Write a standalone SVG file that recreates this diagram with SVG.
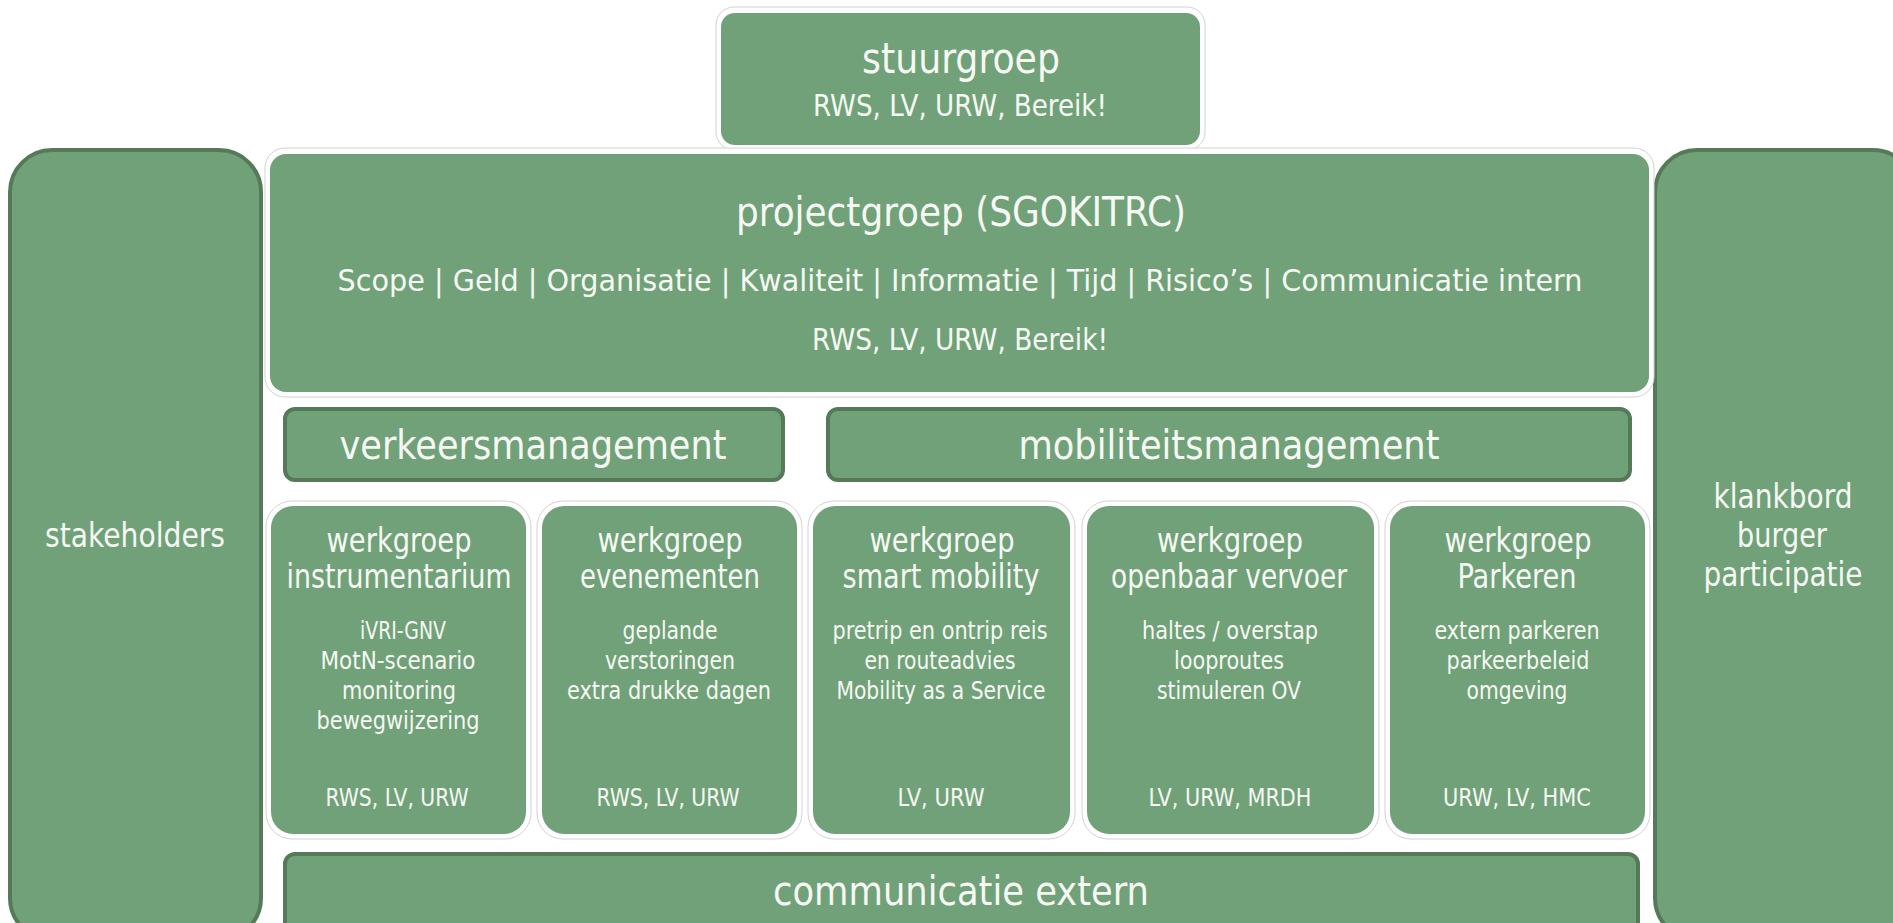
<svg xmlns="http://www.w3.org/2000/svg" width="1893" height="923" viewBox="0 0 1893 923">
<style>
.box{fill:#71a178}
.dark{fill:#71a178;stroke:#557a58;stroke-width:4}
.halo{fill:#ffffff;stroke:#d2d2d2;stroke-width:1}
text{font-family:"DejaVu Sans Condensed","DejaVu Sans",sans-serif;font-stretch:condensed;fill:#f6f8f4;text-anchor:middle}
.t44{font-size:43px}
.t41{font-size:41px}
.t31{font-size:31px}
.t30{font-size:30px}
.t33{font-size:33px}
.t25{font-size:25px}
</style>
<rect x="0" y="0" width="1893" height="923" fill="#ffffff"/>
<g id="connectors"/>
<g id="stakeholders">
<rect class="dark" x="10" y="150" width="251" height="790" rx="42"/>
<text class="t33" x="135" y="547" textLength="180" lengthAdjust="spacingAndGlyphs">stakeholders</text>
</g>
<g id="klankbord">
<rect class="dark" x="1655" y="150" width="260" height="790" rx="42"/>
<text class="t33" x="1783" y="508" textLength="139" lengthAdjust="spacingAndGlyphs">klankbord</text>
<text class="t33" x="1782" y="547" textLength="90" lengthAdjust="spacingAndGlyphs">burger</text>
<text class="t33" x="1783" y="586" textLength="159" lengthAdjust="spacingAndGlyphs">participatie</text>
</g>
<g id="stuurgroep">
<rect class="halo" x="716" y="7" width="489" height="143" rx="18"/>
<rect class="box" x="721" y="13" width="479" height="132" rx="14"/>
<text class="t44" x="961" y="73" textLength="198" lengthAdjust="spacingAndGlyphs">stuurgroep</text>
<text class="t31" x="960" y="116" textLength="294" lengthAdjust="spacingAndGlyphs">RWS, LV, URW, Bereik!</text>
</g>
<g id="projectgroep">
<rect class="halo" x="265" y="148" width="1389" height="249" rx="20"/>
<rect class="box" x="270" y="154" width="1379" height="238" rx="16"/>
<text class="t41" x="961" y="226" textLength="450" lengthAdjust="spacingAndGlyphs">projectgroep (SGOKITRC)</text>
<text class="t30" x="960" y="291" textLength="1245" lengthAdjust="spacingAndGlyphs">Scope | Geld | Organisatie | Kwaliteit | Informatie | Tijd | Risico’s | Communicatie intern</text>
<text class="t31" x="960" y="350" textLength="296" lengthAdjust="spacingAndGlyphs">RWS, LV, URW, Bereik!</text>
</g>
<g id="verkeersmanagement">
<rect class="dark" x="285" y="409" width="498" height="71" rx="10"/>
<text class="t41" x="533" y="459" textLength="387" lengthAdjust="spacingAndGlyphs">verkeersmanagement</text>
</g>
<g id="mobiliteitsmanagement">
<rect class="dark" x="828" y="409" width="802" height="71" rx="10"/>
<text class="t41" x="1229" y="459" textLength="421" lengthAdjust="spacingAndGlyphs">mobiliteitsmanagement</text>
</g>
<g id="werkgroep-instrumentarium">
<rect class="halo" x="266" y="501" width="265" height="338" rx="26"/>
<rect class="box" x="271" y="506" width="255" height="328" rx="22"/>
<text class="t33" x="399" y="552" textLength="145" lengthAdjust="spacingAndGlyphs">werkgroep</text>
<text class="t33" x="399" y="588" textLength="225" lengthAdjust="spacingAndGlyphs">instrumentarium</text>
<text class="t25" x="403" y="639" textLength="86" lengthAdjust="spacingAndGlyphs">iVRI-GNV</text>
<text class="t25" x="398" y="669" textLength="155" lengthAdjust="spacingAndGlyphs">MotN-scenario</text>
<text class="t25" x="399" y="699" textLength="114" lengthAdjust="spacingAndGlyphs">monitoring</text>
<text class="t25" x="398" y="729" textLength="163" lengthAdjust="spacingAndGlyphs">bewegwijzering</text>
<text class="t25" x="397" y="806" textLength="143" lengthAdjust="spacingAndGlyphs">RWS, LV, URW</text>
</g>
<g id="werkgroep-evenementen">
<rect class="halo" x="537" y="501" width="265" height="338" rx="26"/>
<rect class="box" x="542" y="506" width="255" height="328" rx="22"/>
<text class="t33" x="670" y="552" textLength="145" lengthAdjust="spacingAndGlyphs">werkgroep</text>
<text class="t33" x="670" y="588" textLength="180" lengthAdjust="spacingAndGlyphs">evenementen</text>
<text class="t25" x="670" y="639" textLength="95" lengthAdjust="spacingAndGlyphs">geplande</text>
<text class="t25" x="670" y="669" textLength="130" lengthAdjust="spacingAndGlyphs">verstoringen</text>
<text class="t25" x="669" y="699" textLength="204" lengthAdjust="spacingAndGlyphs">extra drukke dagen</text>
<text class="t25" x="668" y="806" textLength="143" lengthAdjust="spacingAndGlyphs">RWS, LV, URW</text>
</g>
<g id="werkgroep-smart-mobility">
<rect class="halo" x="808" y="501" width="267" height="338" rx="26"/>
<rect class="box" x="813" y="506" width="257" height="328" rx="22"/>
<text class="t33" x="942" y="552" textLength="145" lengthAdjust="spacingAndGlyphs">werkgroep</text>
<text class="t33" x="941" y="588" textLength="197" lengthAdjust="spacingAndGlyphs">smart mobility</text>
<text class="t25" x="940" y="639" textLength="215" lengthAdjust="spacingAndGlyphs">pretrip en ontrip reis</text>
<text class="t25" x="940" y="669" textLength="151" lengthAdjust="spacingAndGlyphs">en routeadvies</text>
<text class="t25" x="941" y="699" textLength="209" lengthAdjust="spacingAndGlyphs">Mobility as a Service</text>
<text class="t25" x="941" y="806" textLength="87" lengthAdjust="spacingAndGlyphs">LV, URW</text>
</g>
<g id="werkgroep-openbaar-vervoer">
<rect class="halo" x="1082" y="501" width="297" height="338" rx="26"/>
<rect class="box" x="1087" y="506" width="287" height="328" rx="22"/>
<text class="t33" x="1230" y="552" textLength="146" lengthAdjust="spacingAndGlyphs">werkgroep</text>
<text class="t33" x="1229" y="588" textLength="236" lengthAdjust="spacingAndGlyphs">openbaar vervoer</text>
<text class="t25" x="1230" y="639" textLength="176" lengthAdjust="spacingAndGlyphs">haltes / overstap</text>
<text class="t25" x="1229" y="669" textLength="110" lengthAdjust="spacingAndGlyphs">looproutes</text>
<text class="t25" x="1229" y="699" textLength="144" lengthAdjust="spacingAndGlyphs">stimuleren OV</text>
<text class="t25" x="1230" y="806" textLength="163" lengthAdjust="spacingAndGlyphs">LV, URW, MRDH</text>
</g>
<g id="werkgroep-parkeren">
<rect class="halo" x="1385" y="501" width="265" height="338" rx="26"/>
<rect class="box" x="1390" y="506" width="255" height="328" rx="22"/>
<text class="t33" x="1518" y="552" textLength="147" lengthAdjust="spacingAndGlyphs">werkgroep</text>
<text class="t33" x="1517" y="588" textLength="119" lengthAdjust="spacingAndGlyphs">Parkeren</text>
<text class="t25" x="1517" y="639" textLength="165" lengthAdjust="spacingAndGlyphs">extern parkeren</text>
<text class="t25" x="1518" y="669" textLength="143" lengthAdjust="spacingAndGlyphs">parkeerbeleid</text>
<text class="t25" x="1517" y="699" textLength="101" lengthAdjust="spacingAndGlyphs">omgeving</text>
<text class="t25" x="1517" y="806" textLength="148" lengthAdjust="spacingAndGlyphs">URW, LV, HMC</text>
</g>
<g id="communicatie-extern">
<rect class="dark" x="285" y="854" width="1353" height="90" rx="10"/>
<text class="t41" x="961" y="905" textLength="376" lengthAdjust="spacingAndGlyphs">communicatie extern</text>
</g>
</svg>
